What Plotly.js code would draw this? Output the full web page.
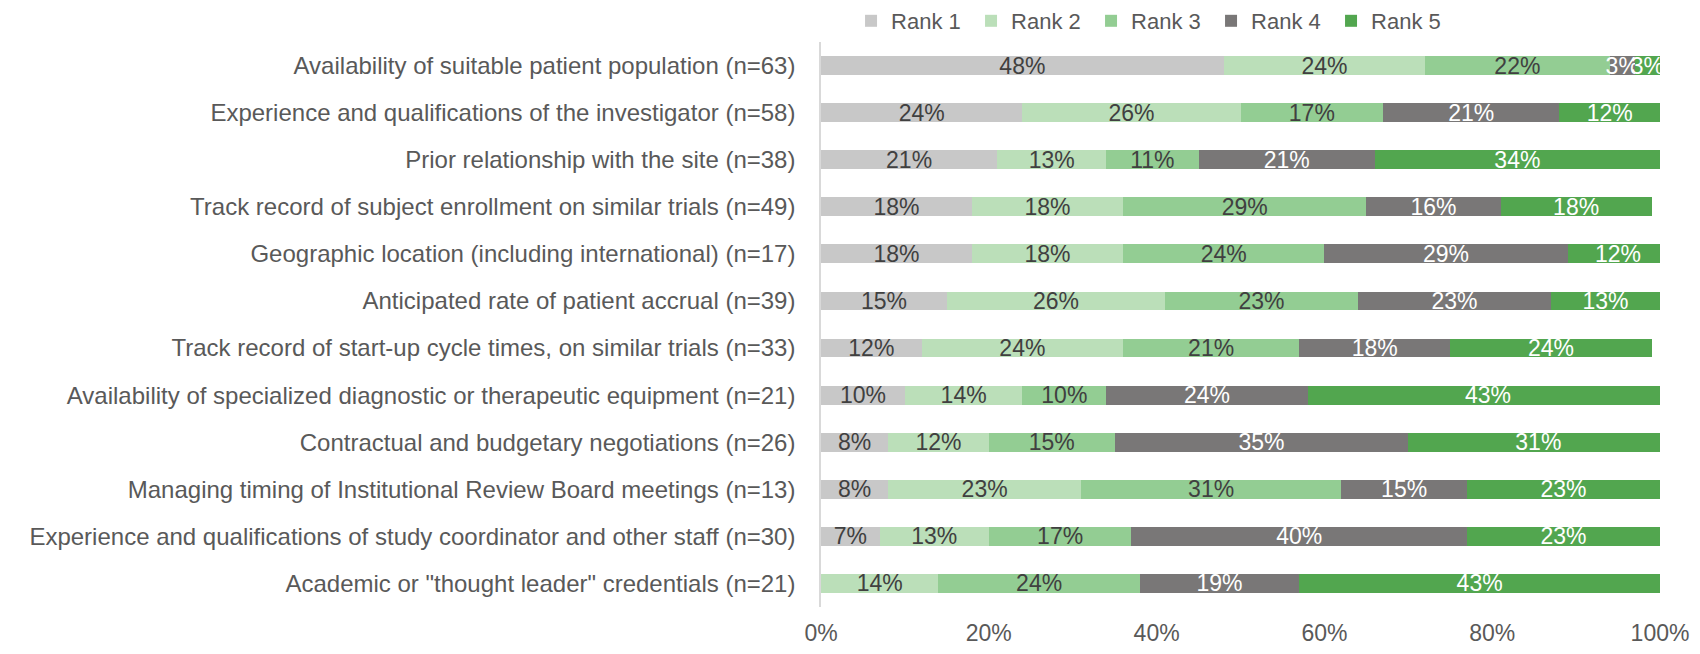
<!DOCTYPE html>
<html>
<head>
<meta charset="utf-8">
<script src="https://cdn.plot.ly/plotly-3.0.1.min.js"></script>
<style>
  html, body { margin: 0; padding: 0; background: #ffffff; }
  #chart { width: 1700px; height: 654px; }
</style>
</head>
<body>
<div id="chart"></div>
<script>
const categories = [
  "Availability of suitable patient population (n=63)",
  "Experience and qualifications of the investigator (n=58)",
  "Prior relationship with the site (n=38)",
  "Track record of subject enrollment on similar trials (n=49)",
  "Geographic location (including international) (n=17)",
  "Anticipated rate of patient accrual (n=39)",
  "Track record of start-up cycle times, on similar trials (n=33)",
  "Availability of specialized diagnostic or therapeutic equipment (n=21)",
  "Contractual and budgetary negotiations (n=26)",
  "Managing timing of Institutional Review Board meetings (n=13)",
  "Experience and qualifications of study coordinator and other staff (n=30)",
  "Academic or \"thought leader\" credentials (n=21)"
];
const seriesNames = ["Rank 1", "Rank 2", "Rank 3", "Rank 4", "Rank 5"];
const rank1 = [48, 24, 21, 18, 18, 15, 12, 10, 8, 8, 7, 0];
const rank2 = [24, 26, 13, 18, 18, 26, 24, 14, 12, 23, 13, 14];
const rank3 = [22, 17, 11, 29, 24, 23, 21, 10, 15, 31, 17, 24];
const rank4 = [3, 21, 21, 16, 29, 23, 18, 24, 35, 15, 40, 19];
const rank5 = [3, 12, 34, 18, 12, 13, 24, 43, 31, 23, 23, 43];
const xTickVals = [0, 20, 40, 60, 80, 100];
const xTickText = ["0%", "20%", "40%", "60%", "80%", "100%"];

const seriesValues = [rank1, rank2, rank3, rank4, rank5];
const colors = ["#c8c8c8", "#bbdfb9", "#93cd93", "#797777", "#52a64f"];
const textColors = ["#404040", "#404040", "#404040", "#ffffff", "#ffffff"];
const NARROW = '"Liberation Sans Narrow", "Arial Narrow", "Liberation Sans", sans-serif';
const REG = '"Liberation Sans", Arial, sans-serif';

const traces = seriesValues.map((vals, i) => ({
  type: "bar",
  orientation: "h",
  name: seriesNames[i],
  y: categories,
  x: vals,
  text: vals.map(v => v > 0 ? v + "%" : ""),
  textposition: "inside",
  insidetextanchor: "middle",
  constraintext: "none",
  textfont: { family: REG, size: 23, color: textColors[i] },
  marker: { color: colors[i], line: { width: 0 } },
  hoverinfo: "name+x"
}));

const layout = {
  width: 1700,
  height: 654,
  barmode: "stack",
  bargap: 0.6,
  paper_bgcolor: "#ffffff",
  plot_bgcolor: "#ffffff",
  margin: { l: 821, r: 40, t: 42, b: 47, pad: 0 },
  font: { family: REG, color: "#595959", size: 22 },
  showlegend: true,
  legend: {
    orientation: "h",
    xref: "paper",
    x: 0.0358, xanchor: "left",
    yref: "container",
    y: 1, yanchor: "top",
    font: { family: REG, size: 22, color: "#595959" },
    itemwidth: 30,
    entrywidth: 75,
    entrywidthmode: "pixels",
    traceorder: "normal",
    bgcolor: "rgba(0,0,0,0)"
  },
  xaxis: {
    range: [0, 100],
    tickvals: xTickVals,
    ticktext: xTickText,
    showgrid: false,
    zeroline: false,
    showline: false,
    ticks: "outside",
    ticklen: 5,
    tickcolor: "rgba(0,0,0,0)",
    tickfont: { family: REG, size: 23, color: "#595959" },
    fixedrange: true
  },
  yaxis: {
    autorange: "reversed",
    type: "category",
    showgrid: false,
    zeroline: false,
    showline: true,
    linecolor: "#d9d9d9",
    linewidth: 1.5,
    ticks: "outside",
    ticklen: 19,
    tickcolor: "rgba(0,0,0,0)",
    tickfont: { family: NARROW, size: 24, color: "#595959" },
    fixedrange: true
  }
};

Plotly.newPlot("chart", traces, layout, { displayModeBar: false, responsive: false });
</script>
</body>
</html>
